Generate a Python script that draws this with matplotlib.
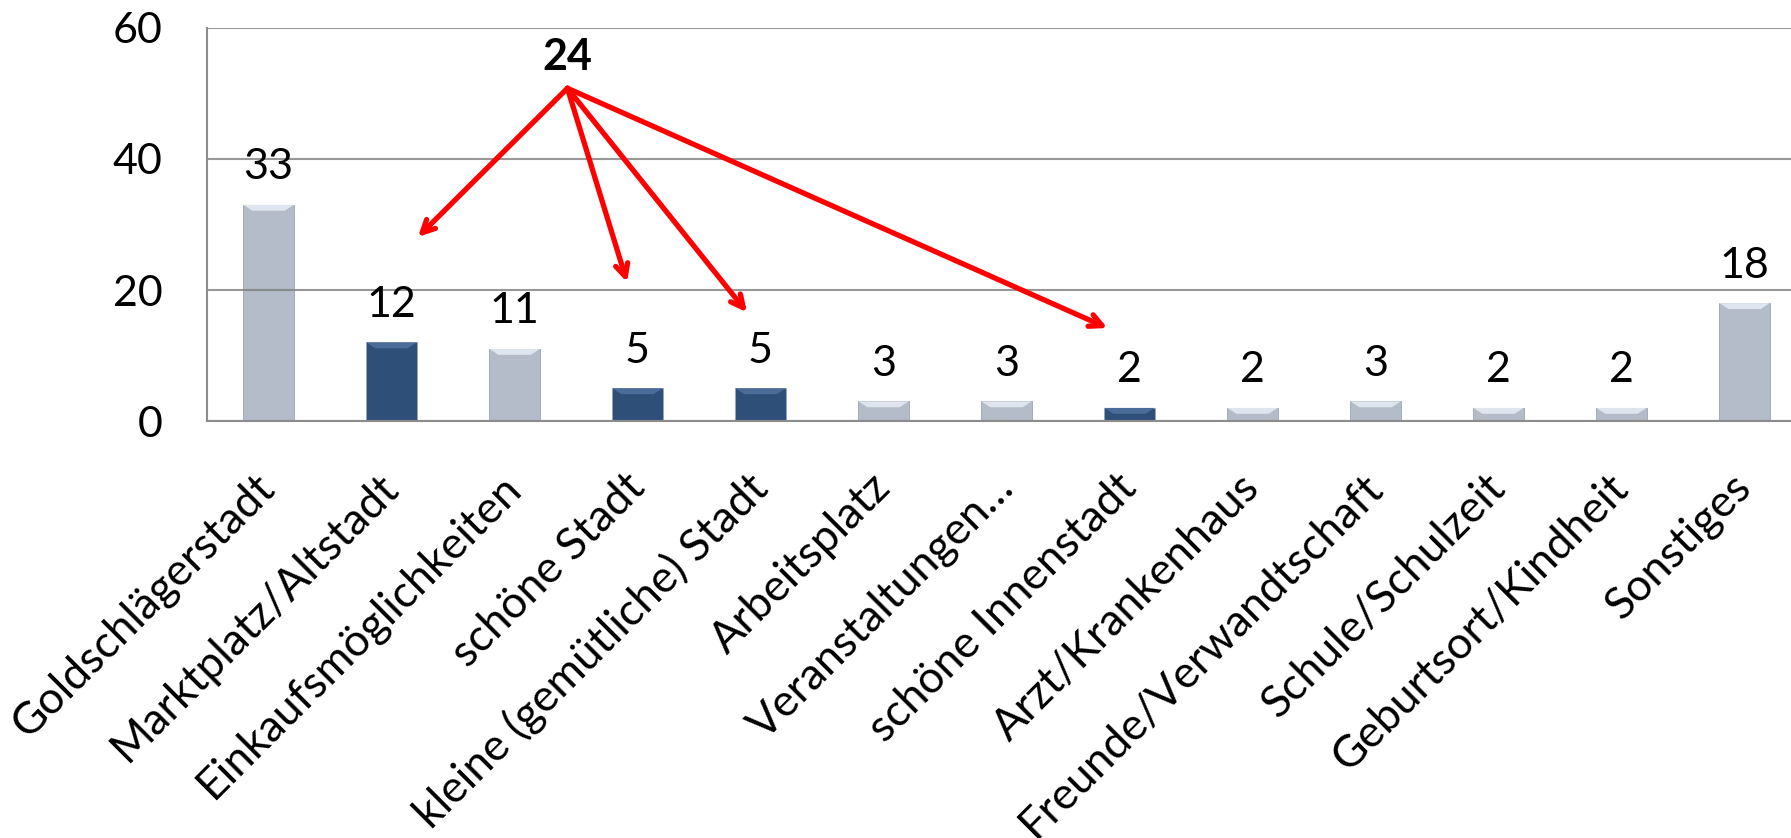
import numpy as np
import matplotlib.pyplot as plt
import matplotlib.transforms as mtransforms
from matplotlib.patches import Polygon

# data
categories = ["Goldschlägerstadt", "Marktplatz/Altstadt", "Einkaufsmöglichkeiten",
              "schöne Stadt", "kleine (gemütliche) Stadt", "Arbeitsplatz",
              "Veranstaltungen…", "schöne Innenstadt", "Arzt/Krankenhaus",
              "Freunde/Verwandtschaft", "Schule/Schulzeit", "Geburtsort/Kindheit",
              "Sonstiges"]
values = [33, 12, 11, 5, 5, 3, 3, 2, 2, 3, 2, 2, 18]
highlight = [1, 3, 4, 7]          # bars that add up to the 24
total_label = "24"
y_ticks = [0, 20, 40, 60]

# arrow geometry in data units (start, and tips per highlighted bar)
arrow_start = (2.43, 50.8)
arrow_tips = [(1.215, 28.1), (2.915, 21.2), (3.89, 16.6), (6.82, 14.2)]

light = "#b3bcc8"
dark = "#2e4f78"

plt.rcParams['font.family'] = ['Lato', 'DejaVu Sans']

fig = plt.figure(figsize=(17.91, 8.38), dpi=100)
ax = fig.add_axes([0.1156, 0.4976, 0.8928, 0.469])

x = np.arange(len(categories))
colors = [dark if i in highlight else light for i in range(len(values))]
bars = ax.bar(x, values, width=0.41, color=colors, zorder=2,
              edgecolor="#9aa5b3", linewidth=0.6)

# small bevel highlight at the top of each bar
for b, c in zip(bars, colors):
    bx, bw, bh = b.get_x(), b.get_width(), b.get_height()
    d = 0.9
    inset = bw * 0.18
    top = "#dfe5ee" if c == light else "#4a6c98"
    poly = Polygon([(bx, bh), (bx + bw, bh), (bx + bw - inset, bh - d), (bx + inset, bh - d)],
                   closed=True, facecolor=top, edgecolor="none", zorder=3)
    ax.add_patch(poly)

for xi, v in zip(x, values):
    ax.annotate(str(v), (xi, v), xytext=(0, 27), textcoords="offset points",
                ha="center", va="center", fontsize=31, color="black")

ax.set_xlim(-0.5, len(categories) - 0.5)
ax.set_ylim(0, 60)
ax.set_yticks(y_ticks)
ax.yaxis.grid(True, color="#7f7f7f", linewidth=1.5, alpha=0.8, zorder=4)
ax.set_axisbelow(False)
ax.tick_params(axis="y", length=0, pad=32, labelsize=31)
ax.tick_params(axis="x", length=0, pad=14)
ax.set_xticks(x)
ax.set_xticklabels(categories, rotation=45, ha="right", va="top",
                   rotation_mode="anchor", fontsize=32)
shift = mtransforms.ScaledTranslation(-0.14, -0.26, fig.dpi_scale_trans)
for lab in ax.get_xticklabels():
    lab.set_transform(lab.get_transform() + shift)

for s in ["top", "right"]:
    ax.spines[s].set_visible(False)
for s in ["left", "bottom"]:
    ax.spines[s].set_color("#8c8c8c")
    ax.spines[s].set_linewidth(1.5)
    ax.spines[s].set_zorder(5)

ax.text(arrow_start[0], 55.6, total_label, ha="center", va="center",
        fontsize=31, fontweight="bold")
for tip in arrow_tips:
    ax.annotate("", xy=tip, xytext=arrow_start,
                arrowprops=dict(arrowstyle="->,head_length=0.9,head_width=0.45",
                                color="#ff0000", lw=3.8, shrinkA=0, shrinkB=0),
                zorder=6)

fig.savefig("out.png", dpi=100)
